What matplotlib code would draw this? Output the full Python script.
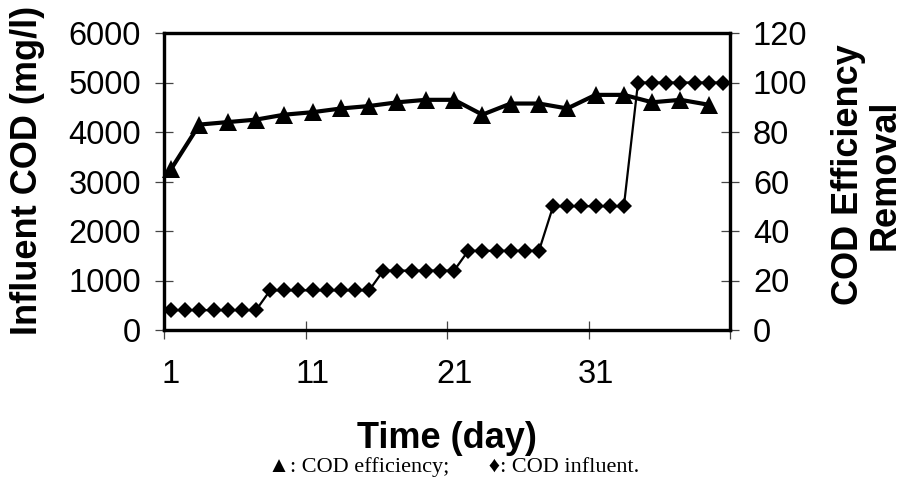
import matplotlib.pyplot as plt

# data
days = list(range(1, 41))
cod_influent = [400, 400, 400, 400, 400, 400, 400,
                800, 800, 800, 800, 800, 800, 800, 800,
                1200, 1200, 1200, 1200, 1200, 1200,
                1600, 1600, 1600, 1600, 1600, 1600,
                2500, 2500, 2500, 2500, 2500, 2500,
                5000, 5000, 5000, 5000, 5000, 5000, 5000]

eff_days = [1, 3, 5, 7, 9, 11, 13, 15, 17, 19,
            21, 23, 25, 27, 29, 31, 33, 35, 37, 39]
cod_efficiency = [65, 83, 84, 85, 87, 88, 89.5, 90.5, 92, 93,
                  93, 87, 91.5, 91.5, 89.5, 95, 95, 92, 93, 91]

x_labels = ['1', '11', '21', '31']
x_label_pos = [1, 11, 21, 31]
x_tick_pos = [0.5, 10.5, 20.5, 30.5, 40.5]

plt.rcParams['font.family'] = ['Liberation Sans', 'DejaVu Sans']

fig = plt.figure(figsize=(9.05, 4.88), dpi=100)
ax = fig.add_axes([164 / 905, 1 - 330 / 488, 566 / 905, 297 / 488])
ax2 = ax.twinx()

# influent COD (left axis) drawn above the efficiency line
ax.set_zorder(ax2.get_zorder() + 1)
ax.patch.set_visible(False)

ax.plot(days, cod_influent, color='black', lw=1.6, marker='D', ms=8.2,
        mew=0, clip_on=False)
ax2.plot(eff_days, cod_efficiency, color='black', lw=3, marker='^', ms=12.5,
         mew=0, clip_on=False)

ax.set_xlim(0.5, 40.5)
ax.set_ylim(0, 6000)
ax2.set_ylim(0, 120)
ax.set_yticks([0, 1000, 2000, 3000, 4000, 5000, 6000])
ax2.set_yticks([0, 20, 40, 60, 80, 100, 120])

ax.set_xticks(x_tick_pos)
ax.set_xticklabels([''] * len(x_tick_pos))
ax.set_xticks(x_label_pos, minor=True)
ax.set_xticklabels(x_labels, minor=True)

for a in (ax, ax2):
    for s in a.spines.values():
        s.set_linewidth(2.3)

ax.tick_params(axis='both', which='major', direction='inout', length=13,
               width=0.9, color='#444444', labelsize=23.5, pad=10)
ax.tick_params(axis='x', which='minor', length=0, labelsize=23.5, pad=21)
ax2.tick_params(axis='y', direction='inout', length=13, width=0.9,
                color='#444444', labelsize=23.5, pad=10)

fig.text(28 / 905, 1 - 170 / 488, 'Influent COD (mg/l)', rotation=90,
         ha='center', va='center', fontsize=26, fontweight='bold')
fig.text(867 / 905, 1 - 175 / 488, 'COD Efficiency\nRemoval', rotation=90,
         ha='center', va='center', fontsize=26, fontweight='bold',
         linespacing=1.05, multialignment='center')
fig.text(447 / 905, 1 - 439 / 488, 'Time (day)', ha='center', va='center',
         fontsize=26, fontweight='bold')
fig.text(268 / 905, 1 - 467 / 488,
         '\u25b2: COD efficiency;       \u2666: COD influent.',
         ha='left', va='center', fontsize=16,
         family=['Liberation Serif', 'DejaVu Serif'])

fig.savefig('out.png', dpi=100)
